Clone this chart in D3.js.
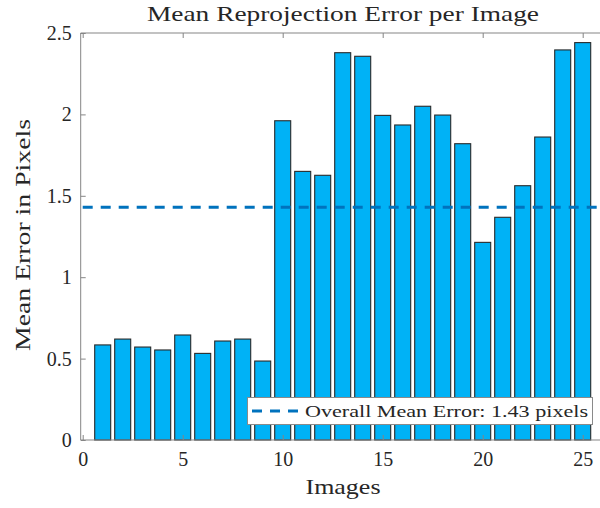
<!DOCTYPE html>
<html>
<head>
<meta charset="utf-8">
<script src="https://cdn.jsdelivr.net/npm/d3@7"></script>
<style>
  html, body { margin: 0; padding: 0; background: #fff; }
  svg { display: block; }
  text { font-family: "Liberation Serif", "DejaVu Serif", serif; fill: #262626; }
</style>
</head>
<body>
<svg id="chart" width="600" height="508"></svg>
<script>
// Per-image mean reprojection error (pixels)
const imageIds = d3.range(1, 26);
const meanErrors = [
  0.584, 0.620, 0.571, 0.553, 0.645, 0.532, 0.608, 0.620, 0.485,
  1.961, 1.650, 1.626, 2.379, 2.357, 1.994, 1.935, 2.050, 1.996,
  1.820, 1.214, 1.368, 1.562, 1.861, 2.396, 2.441
];
const overallMean = 1.43;
const xTicks = [0, 5, 10, 15, 20, 25];
const yTicks = [0, 0.5, 1, 1.5, 2, 2.5];
const titleText = "Mean Reprojection Error per Image";
const xLabelText = "Images";
const yLabelText = "Mean Error in Pixels";
const legendText = "Overall Mean Error: 1.43 pixels";

const svg = d3.select("#chart");
const x = d3.scaleLinear().domain([0, 26]).range([82.7, 602.7]);
const y = d3.scaleLinear().domain([0, 2.5]).range([440, 33]);

const axisColor = "#858585";
const tickLen = 5;
const serif = "Liberation Serif";

// Bars
const barW = (x(0.8) - x(0));
svg.append("g").selectAll("rect")
  .data(meanErrors)
  .join("rect")
  .attr("x", (d, i) => x(imageIds[i]) - barW / 2)
  .attr("y", d => y(d))
  .attr("width", barW)
  .attr("height", d => y(0) - y(d))
  .attr("fill", "#00b2f6")
  .attr("stroke", "#2a2a2a")
  .attr("stroke-width", 1.1);

// Overall mean line
svg.append("line")
  .attr("x1", x(0)).attr("x2", x(26))
  .attr("y1", y(overallMean)).attr("y2", y(overallMean))
  .attr("stroke", "#0072bd")
  .attr("stroke-width", 3)
  .attr("stroke-dasharray", "10,8");

// Axes box (left, bottom, top) with inward ticks
const axisG = svg.append("g");
axisG.append("line").attr("x1", x(0) - 2).attr("x2", x(26)).attr("y1", y(0)).attr("y2", y(0))
  .attr("stroke", axisColor);
axisG.append("line").attr("x1", x(0) - 2).attr("x2", x(26)).attr("y1", y(2.5)).attr("y2", y(2.5))
  .attr("stroke", axisColor);
axisG.append("line").attr("x1", x(0) - 2).attr("x2", x(0) - 2).attr("y1", y(0)).attr("y2", y(2.5))
  .attr("stroke", axisColor);

const xAxisBottom = d3.axisBottom(x).tickValues(xTicks).tickSize(-tickLen).tickPadding(12);
const gx = svg.append("g").attr("transform", `translate(0,${y(0)})`).call(xAxisBottom);
gx.select(".domain").remove();
gx.selectAll(".tick line").attr("stroke", axisColor);
gx.selectAll(".tick text").attr("font-size", 20).attr("font-family", serif).attr("fill", "#262626");

const xAxisTop = d3.axisTop(x).tickValues(xTicks).tickSize(-tickLen).tickFormat("");
const gxt = svg.append("g").attr("transform", `translate(0,${y(2.5)})`).call(xAxisTop);
gxt.select(".domain").remove();
gxt.selectAll(".tick line").attr("stroke", axisColor);

const yAxis = d3.axisLeft(y).tickValues(yTicks).tickSize(-tickLen).tickPadding(9)
  .tickFormat(d => d3.format("")(d));
const gy = svg.append("g").attr("transform", `translate(${x(0) - 2},0)`).call(yAxis);
gy.select(".domain").remove();
gy.selectAll(".tick line").attr("stroke", axisColor);
gy.selectAll(".tick text").attr("font-size", 20).attr("font-family", serif).attr("fill", "#262626");

// Title and axis labels
svg.append("text").attr("x", 343).attr("y", 21).attr("text-anchor", "middle")
  .attr("font-size", 21).attr("textLength", 392).attr("lengthAdjust", "spacingAndGlyphs")
  .text(titleText);
svg.append("text").attr("x", 343).attr("y", 494).attr("text-anchor", "middle")
  .attr("font-size", 21).attr("textLength", 75).attr("lengthAdjust", "spacingAndGlyphs")
  .text(xLabelText);
svg.append("text").attr("transform", "translate(30,235) rotate(-90)").attr("text-anchor", "middle")
  .attr("font-size", 21).attr("textLength", 232).attr("lengthAdjust", "spacingAndGlyphs")
  .text(yLabelText);

// Legend
const lg = svg.append("g");
lg.append("rect").attr("x", 247.5).attr("y", 397.5).attr("width", 345).attr("height", 27)
  .attr("fill", "#fff").attr("stroke", "#8a8a8a");
lg.append("line").attr("x1", 252).attr("x2", 301).attr("y1", 411).attr("y2", 411)
  .attr("stroke", "#0072bd").attr("stroke-width", 3).attr("stroke-dasharray", "10,8");
lg.append("text").attr("x", 305).attr("y", 417).attr("font-size", 17)
  .attr("textLength", 283).attr("lengthAdjust", "spacingAndGlyphs").text(legendText);
</script>
</body>
</html>
